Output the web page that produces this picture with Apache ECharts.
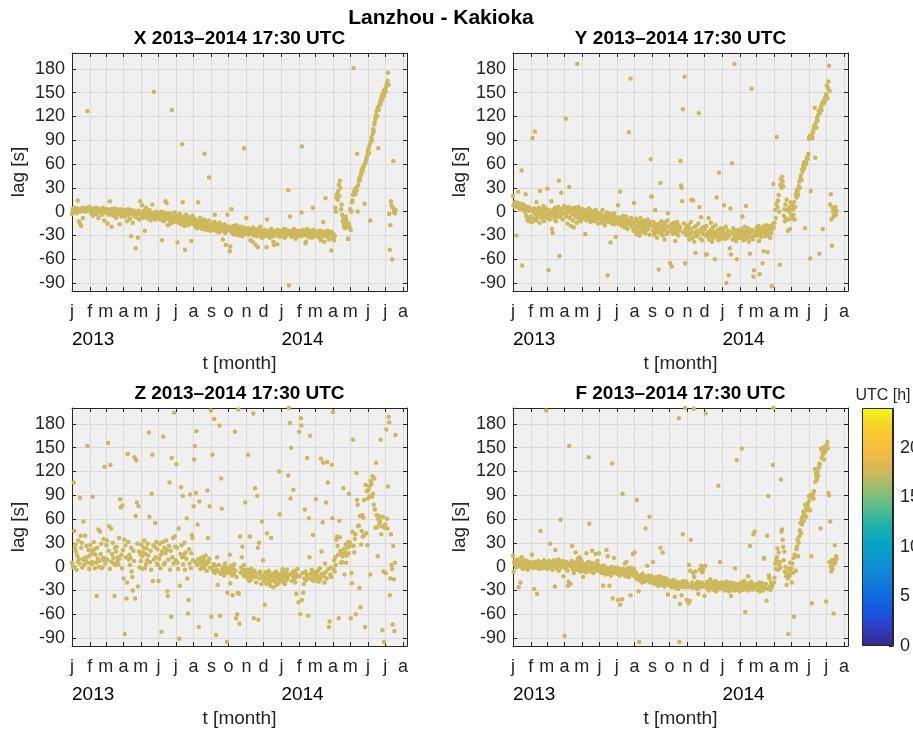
<!DOCTYPE html>
<html>
<head>
<meta charset="utf-8">
<title>Lanzhou - Kakioka</title>
<script src="https://cdn.jsdelivr.net/npm/echarts@6/dist/echarts.min.js"></script>
<style>
  html, body { margin: 0; padding: 0; background: #fff; }
  #chart { width: 913px; height: 730px; }
</style>
</head>
<body>
<div id="chart"></div>
<script>
// daily lag [s] at 17:30 UTC, one row per month (Jan 2013 .. Jul 2014)
const lagX = [
  [-3,2,4,1,5,3,0,2,-2,4,14,1,-12,3,-15,0,-18,2,5,-8,3,1,4,2,0,3,5,127,4,2,6],
  [3,1,-2,4,0,2,-5,3,1,-1,5,2,-3,0,4,-8,2,1,-1,3,0,-4,2,5,1,-11,3,0],
  [1,-2,3,-15,0,2,-4,13,-1,3,-19,0,2,-5,1,4,-2,0,-8,3,1,-3,2,-1,-16,0,3,-6,1,-2,2],
  [0,-3,2,-6,-1,1,-12,-2,3,-4,0,-9,-1,-31,2,-3,-14,0,-5,1,-2,-46,-7,0,-3,-33,1,-10,-2,13],
  [-2,-6,8,-3,-8,1,-5,-24,-2,5,-7,-4,0,-9,-3,2,-6,-11,-1,-4,9,-7,-2,151,-5,-10,0,-3,-8,-1,-6],
  [-4,-8,-2,-10,-5,0,-36,-7,-3,-12,-6,-1,13,-9,11,-4,-17,-8,-2,-11,-5,-15,-7,128,-3,-9,-13,-6,-1,-10],
  [-8,-12,-5,-39,-10,-14,-7,-3,-11,-16,-9,85,12,-13,-6,-18,-48,-10,-4,-15,-8,-12,-17,-7,-11,-14,-9,-37,-13,-5,-16],
  [-12,-16,-9,-19,-14,-11,-21,-15,12,-17,-13,-8,-20,-16,-12,-22,-18,-14,-10,73,-19,-15,-23,-13,-17,-20,-11,43,-18,-24,-16],
  [-17,-21,-15,-23,-19,-13,-4,-20,-24,-18,-16,-22,-26,-19,-14,-21,-25,-17,-20,-23,-35,-18,-22,-16,-27,-42,-20,-24,-4,-19],
  [-22,-19,-50,-44,-25,3,-21,-27,-18,-24,-29,-20,-23,-26,-17,-28,-22,-25,-30,-21,-24,-19,-27,-23,-31,-26,-20,80,-25,-28,-22],
  [-8,-24,-27,-21,-29,-23,-26,-36,-22,-28,-25,-38,-20,-30,-24,-27,-42,-23,-26,-31,-45,-22,-28,-25,-19,-29,-26,-33,-24,-27],
  [-26,-29,-23,-31,-27,-45,-10,-25,-30,-28,-24,-33,-27,-22,-29,-26,-31,-38,-42,-25,-28,-30,-24,-27,-41,-23,-29,-26,-32,-28,-25],
  [-28,-24,-31,-26,-29,-22,-33,-27,-25,-30,-23,-28,27,-93,-26,-6,-29,-24,-32,-27,-25,-30,-22,-28,-26,-34,-24,-29,-27,-31,-25],
  [-26,-29,-24,-31,-1,82,-27,-23,-30,-25,-28,-40,-38,-26,-22,-29,-32,-25,-27,-30,-24,-28,-33,-26,5,-23,-31,-27],
  [-27,-30,-25,-29,-31,-26,-28,-33,-24,-30,-36,-27,-29,-25,-13,-31,-38,-28,17,-26,-30,-24,-32,-28,-35,-27,-25,-29,-49,-26,-30],
  [-34,-28,-36,-31,5,0,18,22,15,26,34,20,39,30,3,9,-4,-12,-8,-18,-15,-21,-6,-10,-20,-14,-34,-34,-16,-20],
  [3,-23,0,12,14,21,181,25,28,22,30,27,73,0,33,38,42,40,45,50,48,54,52,58,57,10,61,63,66,70,72],
  [76,80,74,84,-11,88,93,90,98,104,101,110,113,118,122,127,120,131,80,128,134,139,136,142,145,141,148,152,146,150],
  [155,152,158,162,165,175,160,-3,-48,-17,13,8,-60,5,64,0,3,-2,2]
];

const lagY = [
  [20,8,10,6,12,9,-30,7,11,25,5,8,3,10,6,52,-68,4,9,2,7,0,22,-5,3,-10,6,-12,1,-8,4],
  [-6,2,-13,93,0,-9,4,101,-4,-11,12,1,-7,-2,5,-14,26,-3,3,-8,0,-5,7,-12,-1,2,-6,4],
  [-8,29,-3,-74,2,-10,-5,0,13,-22,-27,-4,3,-9,-1,5,-12,-6,1,-3,6,39,-56,-7,0,24,-4,4,-10,-2,7],
  [-2,5,117,-6,3,-15,-1,6,31,-8,2,-18,-4,4,-11,0,-20,5,-3,-7,1,-14,186,-2,6,-9,-5,3,-12,0],
  [-4,3,-9,-1,-6,2,-28,-3,-11,0,-7,-2,4,-8,-5,-13,1,-4,-10,-6,0,-3,-12,-7,2,-5,-9,-1,-15,-4,-8],
  [-6,-10,-3,-14,-8,2,-12,-5,-9,-17,-4,-11,-7,-1,-80,-13,-6,-10,-3,-39,-8,-15,-5,-12,-9,-2,-16,-7,-32,-11],
  [-10,-14,8,-7,-16,-11,25,-13,-8,-18,-12,-5,-15,-20,-9,-13,-6,-17,-11,-22,-14,100,-10,-16,168,-8,-19,-12,-15,-24,11],
  [-14,-22,-9,-28,-17,-12,-25,-19,-30,-15,-8,-21,-26,-13,-18,-24,-11,-20,-16,-27,-14,-23,-19,-10,-22,-17,-29,-13,66,19,19],
  [-18,-24,-13,-29,-21,2,-16,-26,-33,-19,-23,-73,-15,-27,36,-20,-12,-25,-30,-17,-22,-35,-14,-24,-19,-28,-11,-2,-26,-18],
  [-19,-65,-24,-16,-69,-22,-28,-14,-25,-18,-37,-21,-27,-13,-23,-30,-17,-24,-20,64,33,30,13,129,-26,-15,170,-65,-22,-29,-18],
  [-24,-30,-17,-35,-22,-28,-13,15,-26,-33,14,-20,-38,-27,-52,-18,-31,-24,-29,-15,124,6,-25,-34,-7,-21,-36,-28,-23,-19],
  [-22,-29,-54,-18,-54,-31,-26,-8,-35,-24,-30,-14,-27,-38,-20,-33,-25,-29,-60,-17,-28,18,-32,-23,-36,49,-26,-30,-21,-34,-27],
  [-25,-31,-22,8,-28,-34,-19,-90,-27,-33,-24,-80,-30,-46,4,-54,-26,61,-35,-21,-29,186,-32,-24,-37,-60,-28,-23,-33,-26,-30],
  [-27,-33,-22,-30,-6,-25,-36,-28,-19,-31,7,-24,-34,-27,-21,-38,-29,-53,-26,-32,155,-23,-35,-82,-74,-28,-30,-25],
  [-26,-20,-30,-24,-18,-37,-79,-28,-22,-32,-25,-65,-19,-50,-27,-23,-31,-17,-26,-21,-51,-29,-24,-18,-33,-20,-27,-94,-22,-16,35],
  [-20,-14,2,-8,10,94,6,14,21,0,-67,34,41,30,44,38,32,-5,3,-12,9,-9,15,2,-24,-10,5,0,-22,12],
  [-5,8,-9,3,-4,12,-10,6,22,18,27,25,21,32,38,30,42,46,40,53,51,58,62,55,-21,63,60,68,66,70,73],
  [92,95,-59,26,94,97,93,100,104,108,131,68,112,106,118,115,122,127,-53,124,130,133,128,137,-22,136,140,139,144,141],
  [148,159,143,156,164,184,152,9,22,-10,-43,5,0,-6,3,-2,6,-4,1]
];

const lagZ = [
  [5,2,-1,106,45,23,28,19,-4,14,6,33,10,4,87,39,24,30,-1,9,57,2,11,39,7,26,12,152,5,21,-3],
  [14,27,20,3,6,88,17,31,22,-2,15,5,-37,24,10,47,0,7,44,16,29,-2,-1,11,35,8,126,4],
  [10,27,33,8,156,20,51,-3,128,48,6,16,30,11,4,-37,24,2,19,25,7,12,3,36,10,85,75,15,-2,77,21],
  [-15,34,-85,27,12,-40,-20,142,31,9,15,2,11,24,-6,-13,-30,20,7,138,-40,64,134,81,29,-25,76,19,-1,16],
  [7,28,13,-3,18,24,33,-2,16,3,23,8,29,14,169,63,6,20,-4,92,141,-18,27,9,25,55,12,31,4,22,2],
  [-18,10,29,-2,15,-82,19,31,164,3,24,5,17,33,21,-31,-37,9,26,106,-4,20,-63,137,12,36,4,194,38,25],
  [8,129,24,5,-3,48,-91,-24,16,100,27,12,89,3,15,30,-4,18,10,61,-15,-59,-42,22,4,91,-2,17,40,36,8],
  [76,135,152,6,93,171,2,53,9,-76,82,4,-3,11,7,0,12,5,-2,8,1,14,3,-5,96,36,6,10,76,-1,197],
  [-63,-2,141,-5,3,186,-8,1,-86,-4,12,-23,-6,2,178,-62,-9,111,73,-3,-7,0,-11,-4,4,-8,-1,-95,-33,-6],
  [-3,-8,15,-21,1,-6,-11,-36,-2,-9,3,170,-5,-65,-13,-60,-33,198,-34,-72,38,-7,-1,12,25,-10,-4,2,-12,81,-6],
  [-9,-4,-14,141,-7,-18,38,-11,-3,-16,-8,-12,193,-65,-5,99,-13,-20,-9,89,24,-67,30,-15,-6,-10,-22,57,-14,8],
  [-12,-18,-48,-7,-15,-22,42,-10,-16,-5,-20,-13,-24,36,-9,-17,-11,-26,-14,-8,-19,-12,-6,-23,-15,-10,-21,120,66,-13,-17],
  [-8,-15,-3,-19,-11,-6,-22,-13,-9,-17,-4,-14,115,200,-10,181,86,150,-18,-7,-12,97,-16,-5,-20,-9,-34,-13,-3,-11,-45],
  [170,-12,-60,187,178,-42,-8,-33,-22,-15,72,-6,-17,-10,137,-14,-62,61,12,165,-9,-16,-4,-13,40,-18,-7,-11],
  [-14,85,-8,-17,-11,-5,-19,-13,-2,-16,136,19,-9,56,131,-12,-20,4,-7,81,-15,132,106,-3,-76,-69,-10,-1,-13,128,61],
  [195,-3,8,-6,12,2,34,38,26,15,-65,58,37,20,5,16,6,13,99,22,-10,18,28,5,14,24,31,17,92,26],
  [30,-65,-8,-21,44,160,26,18,35,41,-60,118,84,78,51,52,-27,64,-51,28,45,65,38,62,84,40,-76,103,42,95,27],
  [86,97,101,89,-10,108,104,88,114,92,78,111,72,49,131,65,50,13,60,64,55,58,160,41,51,-80,63,-6,-95,49],
  [53,-8,173,60,48,101,189,182,-36,-15,41,2,-3,-73,26,-16,-81,5,166]
];

const lagF = [
  [14,-6,5,8,2,6,-1,4,9,3,-26,1,7,-20,0,12,5,-3,6,2,8,-2,4,1,7,3,-4,5,2,6,0],
  [3,0,15,5,-2,4,-28,1,6,-1,3,-34,2,7,-3,4,0,45,5,1,-2,6,3,8,-1,2,4,197],
  [2,-3,5,0,7,3,29,-1,4,6,-4,2,8,1,-25,21,3,-2,5,0,9,-5,4,2,59,6,-1,3,7,-12,1],
  [-87,3,-2,6,1,-5,-24,-19,152,4,-22,0,7,26,-3,5,-8,2,-1,18,6,-4,3,10,-2,5,12,-6,1,8],
  [-2,4,-13,1,-5,3,0,-7,17,2,-4,6,138,54,-1,-6,5,-3,20,1,-8,3,-2,4,16,-5,0,7,-3,2,17],
  [-3,-6,0,-8,-2,-5,-24,1,-7,-4,-10,-1,21,-6,13,-3,-9,-24,-2,-5,-11,0,130,-40,-7,11,-4,-8,-1,-6],
  [-5,-9,-42,-2,-7,-11,-48,-4,-8,-41,92,-3,-10,-6,4,-12,-5,6,-9,-2,-7,-13,-4,-8,-36,-1,-10,-6,16,-11,-3],
  [18,-10,-14,-8,84,-16,-12,-31,-95,-13,-18,-11,-15,-20,-9,-14,-17,-12,-19,48,-13,-16,1,-15,-11,-18,63,-14,-20,-12,-17],
  [-16,6,-20,-14,-19,-22,-17,-13,-21,-18,-24,-15,-20,-12,24,-19,-23,-16,18,-21,-14,-25,-18,-20,-15,-22,-17,-35,-19,-23],
  [-20,-24,-18,-22,-26,-19,-23,-17,-25,-38,-21,-27,-19,-24,-22,-28,187,-95,-47,-20,-25,-36,-23,41,-18,-26,-21,200,-24,-19,-42],
  [-22,-26,-46,2,-43,-5,34,-24,-20,-27,-8,199,-13,-23,-6,-25,-21,-28,-19,-34,-24,-22,-4,-26,1,-20,-7,-25,-3,-23],
  [-37,1,193,-22,-27,-19,-25,-30,-21,-26,-16,-28,-23,-24,-20,-29,-25,-22,-27,-18,-31,-24,-26,-21,102,-28,-23,6,-25,-20,-27],
  [-24,-28,-21,-26,-30,-23,-27,-19,-25,-29,-22,-26,-31,-24,-20,-37,-27,-23,-28,-25,-21,-30,-2,-26,-24,134,-29,-22,-27,-25,-31],
  [-23,-27,-20,149,-26,-29,-22,-18,-25,-57,-28,-21,-24,-30,-12,-26,-23,26,-27,-19,-25,-29,-22,41,-26,44,-24,-28],
  [-26,-22,-29,-24,-27,-20,-31,-25,-23,-28,-21,-26,-30,10,11,-24,-27,-22,-43,39,-28,89,-11,-15,-25,-29,-20,-26,-23,128,200],
  [-20,-14,4,-3,8,12,23,-4,18,2,6,-1,110,44,47,34,25,8,19,-6,0,-12,-23,-9,-15,-85,-3,-11,5,-7],
  [-2,-20,4,-8,11,-63,15,13,-5,22,25,34,13,30,38,46,55,42,60,53,63,69,58,66,78,72,63,78,71,80,74],
  [89,84,71,90,13,-46,88,92,86,95,123,107,117,112,110,120,115,125,130,128,48,149,137,146,141,143,135,151,145,148],
  [-44,153,157,149,93,90,6,57,0,-6,8,-3,3,-59,8,27,5,13,10]
];

const panelNames = ['X', 'Y', 'Z', 'F'];
const monthLetters = ['j','f','m','a','m','j','j','a','s','o','n','d'];
const lagTicks = [-90, -60, -30, 0, 30, 60, 90, 120, 150, 180];
const utcTicks = [0, 5, 10, 15, 20];
const utcMax = 24;

const T0 = Date.UTC(2013, 0, 1);
const dayOf = (y, m) => (Date.UTC(y, m, 1) - T0) / 864e5;
const monthTicks = [];
for (let m = 0; m < 20; m++) monthTicks.push(dayOf(2013, m));
const yearTicks = [dayOf(2013, 0), dayOf(2014, 0)];
const dayMax = 584;

function toPoints(rows) {
  const pts = [];
  rows.forEach((row, m) => {
    const start = dayOf(2013, m);
    row.forEach((v, i) => { if (v != null) pts.push([start + i, v]); });
  });
  return pts;
}

const font = 'Liberation Sans, Arial, sans-serif';
const ink = '#262626';
const gridLine = '#dadada';
const plotBg = '#f0f0f0';
const dotColor = '#cdb95a';

// parula-like colour ramp, bottom to top
const parula = [
  [0.00, '#352a87'], [0.08, '#2f3ec6'], [0.14, '#1657df'], [0.21, '#0f6ae0'],
  [0.27, '#137cd8'], [0.34, '#118ed2'], [0.42, '#07a2c8'], [0.50, '#1cb1ae'],
  [0.58, '#58bc8f'], [0.63, '#7dbf7d'], [0.69, '#b3bb65'], [0.73, '#cdb95a'],
  [0.79, '#eab947'], [0.84, '#fbbd3b'], [0.90, '#f8cb2e'], [0.95, '#f4dc24'],
  [1.00, '#f9fb0e']
];

const boxes = [
  { left: 72, top: 53 }, { left: 513, top: 53 },
  { left: 72, top: 408 }, { left: 513, top: 408 }
];
const boxW = 335, boxH = 238;

const grid = [], xAxis = [], yAxis = [], series = [], title = [];

title.push({
  text: 'Lanzhou - Kakioka', left: 441, top: 8, textAlign: 'center', padding: 0,
  textStyle: { fontFamily: font, fontSize: 21, fontWeight: 'bold', color: '#000' }
});

const allLags = [lagX, lagY, lagZ, lagF];

boxes.forEach((b, g) => {
  grid.push({
    left: b.left, top: b.top, width: boxW, height: boxH,
    show: true, backgroundColor: plotBg, borderWidth: 0,
    outerBoundsMode: 'none', containLabel: false
  });
  title.push({
    text: panelNames[g] + ' 2013\u20132014 17:30 UTC',
    left: b.left + boxW / 2, top: b.top - 24, textAlign: 'center', padding: 0,
    textStyle: { fontFamily: font, fontSize: 19, fontWeight: 'bold', color: '#000' }
  });

  const xi = xAxis.length;
  // months along the bottom
  xAxis.push({
    type: 'value', gridIndex: g, min: 0, max: dayMax, position: 'bottom',
    axisLine: { show: true, onZero: false, lineStyle: { color: ink, width: 1 } },
    axisTick: { show: true, inside: true, length: 4, customValues: monthTicks, lineStyle: { color: ink } },
    axisLabel: {
      customValues: monthTicks, margin: 12, color: ink, fontFamily: font, fontSize: 18,
      formatter: v => monthLetters[new Date(T0 + v * 864e5).getUTCMonth()]
    },
    splitLine: { show: true, lineStyle: { color: gridLine, width: 1 } },
    name: 't [month]', nameLocation: 'middle', nameGap: 63,
    nameTextStyle: { fontFamily: font, fontSize: 19, color: ink }
  });
  // year row under the months
  xAxis.push({
    type: 'value', gridIndex: g, min: 0, max: dayMax, position: 'bottom',
    axisLine: { show: false }, axisTick: { show: false }, splitLine: { show: false },
    axisLabel: {
      customValues: yearTicks, margin: 39, align: 'left', color: '#000', fontFamily: font, fontSize: 19,
      formatter: v => String(new Date(T0 + v * 864e5).getUTCFullYear())
    }
  });
  // box top with ticks
  xAxis.push({
    type: 'value', gridIndex: g, min: 0, max: dayMax, position: 'top',
    axisLine: { show: true, onZero: false, lineStyle: { color: ink, width: 1 } },
    axisTick: { show: true, inside: true, length: 4, customValues: monthTicks, lineStyle: { color: ink } },
    axisLabel: { show: false }, splitLine: { show: false }
  });

  const yi = yAxis.length;
  yAxis.push({
    type: 'value', gridIndex: g, min: -100, max: 200, position: 'left',
    axisLine: { show: true, onZero: false, lineStyle: { color: ink, width: 1 } },
    axisTick: { show: true, inside: true, length: 4, customValues: lagTicks, lineStyle: { color: ink } },
    axisLabel: { customValues: lagTicks, margin: 7, color: ink, fontFamily: font, fontSize: 18 },
    splitLine: { show: true, lineStyle: { color: gridLine, width: 1 } },
    name: 'lag [s]', nameLocation: 'middle', nameGap: 44,
    nameTextStyle: { fontFamily: font, fontSize: 19, color: ink }
  });
  yAxis.push({
    type: 'value', gridIndex: g, min: -100, max: 200, position: 'right',
    axisLine: { show: true, onZero: false, lineStyle: { color: ink, width: 1 } },
    axisTick: { show: true, inside: true, length: 4, customValues: lagTicks, lineStyle: { color: ink } },
    axisLabel: { show: false }, splitLine: { show: false }
  });

  series.push({
    type: 'scatter', name: panelNames[g], xAxisIndex: xi, yAxisIndex: yi,
    data: toPoints(allLags[g]), symbol: 'circle', symbolSize: 4.5,
    itemStyle: { color: dotColor, opacity: 1 }, silent: true, z: 3
  });
});

// colour bar for UTC hour
grid.push({ left: 862, top: 408, width: 31, height: 238, outerBoundsMode: 'none', containLabel: false });
const cbX = xAxis.length;
xAxis.push({ type: 'category', gridIndex: 4, data: ['UTC'], show: false });
const cbY = yAxis.length;
yAxis.push({
  type: 'value', gridIndex: 4, min: 0, max: utcMax, position: 'right',
  axisLine: { show: true, lineStyle: { color: ink, width: 1 } },
  axisTick: { show: true, inside: true, length: 4, customValues: utcTicks, lineStyle: { color: ink } },
  axisLabel: { customValues: utcTicks, margin: 7, color: ink, fontFamily: font, fontSize: 18 },
  splitLine: { show: false }
});
series.push({
  type: 'bar', xAxisIndex: cbX, yAxisIndex: cbY, data: [utcMax], barWidth: '100%', silent: true,
  itemStyle: {
    borderColor: ink, borderWidth: 1,
    color: { type: 'linear', x: 0, y: 1, x2: 0, y2: 0,
      colorStops: parula.map(([o, c]) => ({ offset: o, color: c })) }
  }
});
title.push({
  text: 'UTC [h]', left: 883, top: 388, textAlign: 'center', padding: 0,
  textStyle: { fontFamily: font, fontSize: 16, fontWeight: 'normal', color: ink }
});

const chart = echarts.init(document.getElementById('chart'), null, { renderer: 'canvas' });
chart.setOption({
  animation: false,
  backgroundColor: '#ffffff',
  title, grid, xAxis, yAxis, series
});
</script>
</body>
</html>
